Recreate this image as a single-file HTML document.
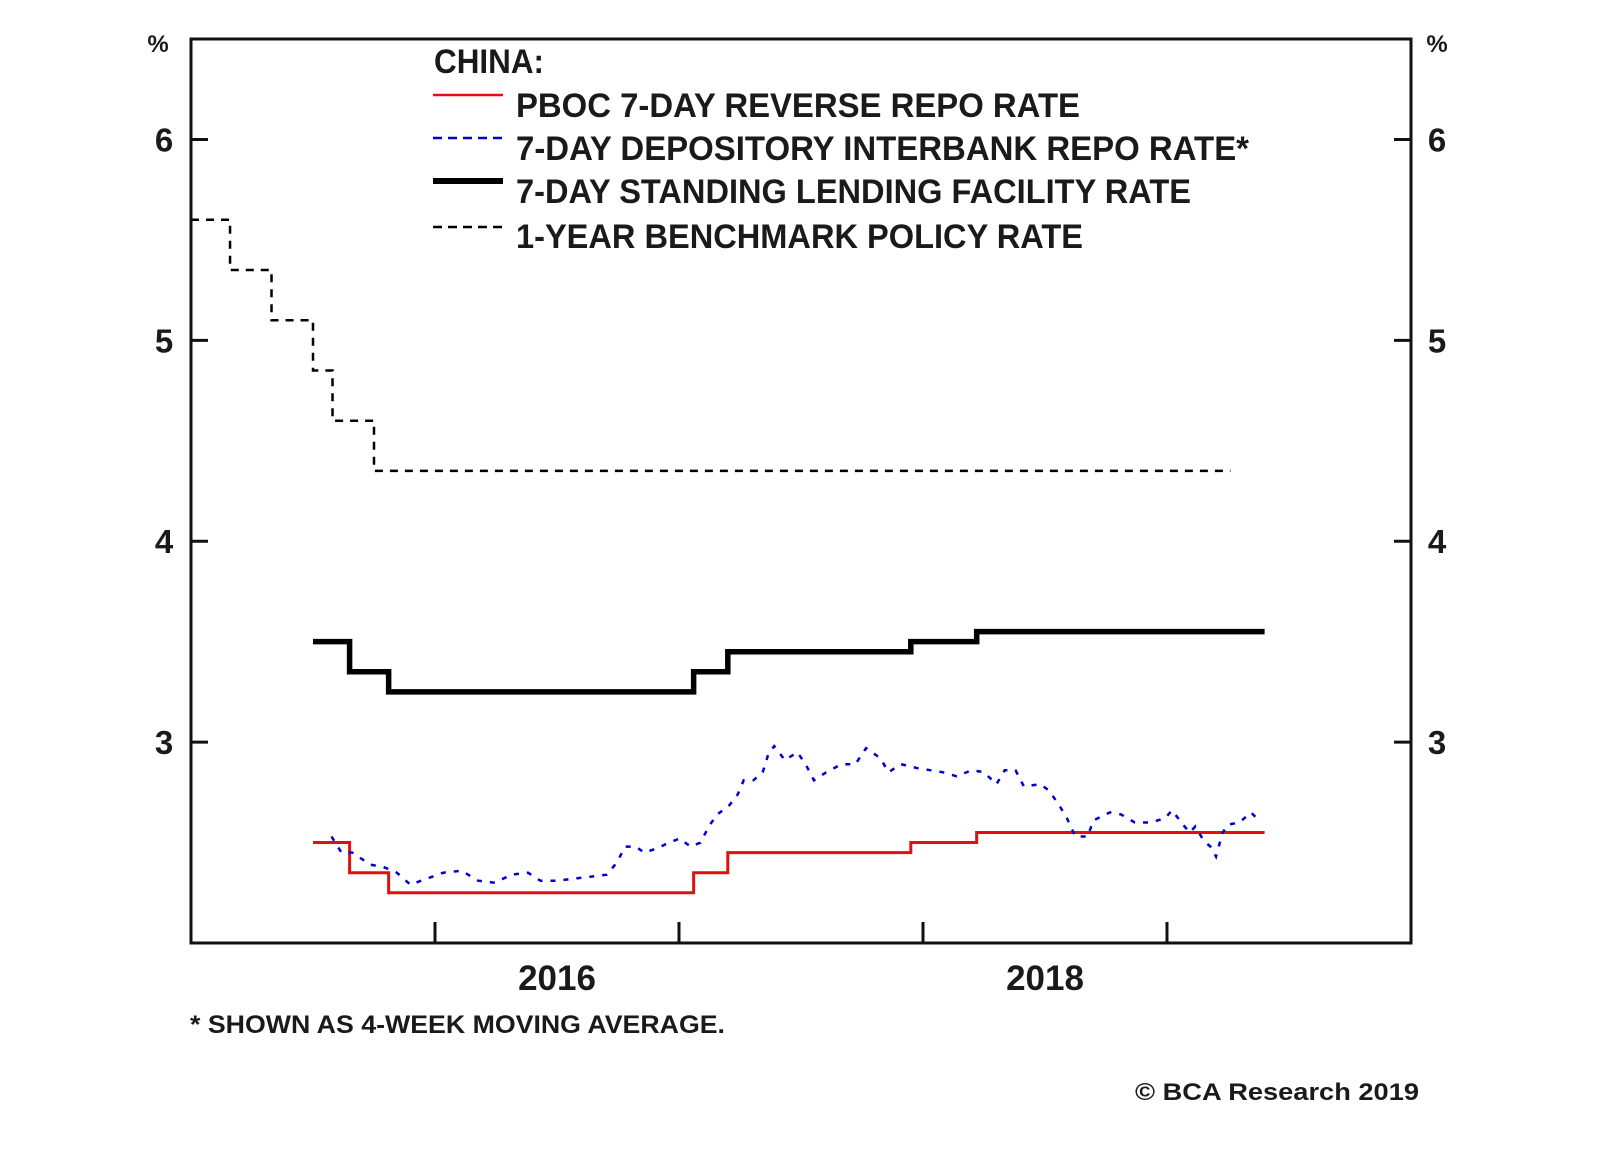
<!DOCTYPE html>
<html><head><meta charset="utf-8"><style>
html,body{margin:0;padding:0;background:#fff;}
svg{display:block;font-family:"Liberation Sans",Arial,sans-serif;font-weight:bold;}
</style></head><body>
<svg id="chart" width="1600" height="1152" viewBox="0 0 1600 1152" xmlns="http://www.w3.org/2000/svg">
<rect x="0" y="0" width="1600" height="1152" fill="#fff"/>
<g id="plot"></g>
<rect x="191" y="39" width="1220" height="904" fill="none" stroke="#111" stroke-width="3"/>
<g id="axes"></g>
<g fill="#1a1a1a" font-size="34">
  <text x="434" y="73" textLength="110" lengthAdjust="spacingAndGlyphs">CHINA:</text>
  <g>
    <line x1="433" y1="95" x2="503" y2="95" stroke="#e01010" stroke-width="2.5"/>
    <text x="516" y="117" textLength="564" lengthAdjust="spacingAndGlyphs">PBOC 7-DAY REVERSE REPO RATE</text>
  </g>
  <g>
    <line x1="433" y1="138" x2="503" y2="138" stroke="#0000cc" stroke-width="2.5" stroke-dasharray="9 6"/>
    <text x="516" y="160" textLength="733" lengthAdjust="spacingAndGlyphs">7-DAY DEPOSITORY INTERBANK REPO RATE*</text>
  </g>
  <g>
    <line x1="433" y1="181" x2="503" y2="181" stroke="#000" stroke-width="6"/>
    <text x="516" y="203" textLength="675" lengthAdjust="spacingAndGlyphs">7-DAY STANDING LENDING FACILITY RATE</text>
  </g>
  <g>
    <line x1="433" y1="227" x2="503" y2="227" stroke="#000" stroke-width="2.5" stroke-dasharray="9 6"/>
    <text x="516" y="248" textLength="567" lengthAdjust="spacingAndGlyphs">1-YEAR BENCHMARK POLICY RATE</text>
  </g>
</g>
<text x="190" y="1033" font-size="25" fill="#1a1a1a" textLength="535" lengthAdjust="spacingAndGlyphs">* SHOWN AS 4-WEEK MOVING AVERAGE.</text>
<text x="1135" y="1100" font-size="24" fill="#1a1a1a" textLength="284" lengthAdjust="spacingAndGlyphs">© BCA Research 2019</text>
</svg>
<script>
const yTicks = [3, 4, 5, 6];
const xYearTicks = [2016, 2017, 2018, 2019];
const xLabels = [2016, 2018];

const stepDates = [2015.50, 2015.65, 2015.81, 2017.06, 2017.20, 2017.95, 2018.22, 2019.40];
const repoValues = [2.5, 2.35, 2.25, 2.35, 2.45, 2.5, 2.55, 2.55];
const slfValues = [3.5, 3.35, 3.25, 3.35, 3.45, 3.5, 3.55, 3.55];

const benchDates = [2015.0, 2015.16, 2015.33, 2015.50, 2015.58, 2015.75, 2019.26];
const benchValues = [5.6, 5.35, 5.1, 4.85, 4.6, 4.35, 4.35];

const interbankDates = [2015.576,2015.617,2015.661,2015.735,2015.786,2015.844,2015.899,2015.966,2016.034,2016.109,2016.177,2016.245,2016.313,2016.381,2016.432,2016.500,2016.568,2016.636,2016.704,2016.745,2016.779,2016.823,2016.857,2016.908,2016.959,2017.003,2017.047,2017.088,2017.122,2017.156,2017.203,2017.241,2017.265,2017.305,2017.343,2017.366,2017.390,2017.434,2017.485,2017.519,2017.553,2017.604,2017.666,2017.723,2017.767,2017.825,2017.859,2017.910,2017.978,2018.029,2018.080,2018.138,2018.199,2018.250,2018.301,2018.335,2018.379,2018.413,2018.481,2018.515,2018.556,2018.590,2018.624,2018.675,2018.698,2018.766,2018.811,2018.868,2018.930,2018.991,2019.021,2019.065,2019.093,2019.116,2019.150,2019.178,2019.201,2019.228,2019.252,2019.297,2019.344,2019.378];
const interbankValues = [2.53,2.45,2.45,2.39,2.38,2.35,2.29,2.32,2.35,2.36,2.31,2.30,2.34,2.35,2.31,2.31,2.32,2.33,2.34,2.40,2.48,2.48,2.45,2.47,2.50,2.52,2.48,2.50,2.58,2.64,2.68,2.74,2.81,2.81,2.85,2.94,2.98,2.91,2.95,2.89,2.81,2.85,2.89,2.89,2.97,2.92,2.85,2.89,2.87,2.86,2.85,2.83,2.86,2.85,2.79,2.86,2.86,2.78,2.79,2.76,2.69,2.62,2.53,2.53,2.61,2.65,2.64,2.60,2.60,2.62,2.66,2.59,2.55,2.58,2.51,2.48,2.43,2.55,2.59,2.60,2.65,2.61];

const X0 = 191, X1 = 1411, Y0 = 39, Y1 = 943;
const xMin = 2015, xMax = 2020, yMin = 2.0, yMax = 6.5;
const xs = t => X0 + (t - xMin) / (xMax - xMin) * (X1 - X0);
const ys = v => Y1 - (v - yMin) / (yMax - yMin) * (Y1 - Y0);
const NS = 'http://www.w3.org/2000/svg';
const plot = document.getElementById('plot');
const axes = document.getElementById('axes');

function stepPath(dates, vals) {
  let d = 'M' + xs(dates[0]) + ',' + ys(vals[0]);
  for (let i = 1; i < dates.length; i++) {
    d += ' L' + xs(dates[i]) + ',' + ys(vals[i - 1]) + ' L' + xs(dates[i]) + ',' + ys(vals[i]);
  }
  return d;
}

const bench = document.createElementNS(NS, 'path');


bench.setAttribute('d', stepPath(benchDates, benchValues));
bench.setAttribute('fill', 'none'); bench.setAttribute('stroke', '#000');
bench.setAttribute('stroke-width', '2.5'); bench.setAttribute('stroke-dasharray', '8 7');
plot.appendChild(bench);

const slf = document.createElementNS(NS, 'path');


slf.setAttribute('d', stepPath(stepDates, slfValues));
slf.setAttribute('fill', 'none'); slf.setAttribute('stroke', '#000'); slf.setAttribute('stroke-width', '5.5');
plot.appendChild(slf);

const repo = document.createElementNS(NS, 'path');


repo.setAttribute('d', stepPath(stepDates, repoValues));
repo.setAttribute('fill', 'none'); repo.setAttribute('stroke', '#e01010'); repo.setAttribute('stroke-width', '3');
plot.appendChild(repo);

const ib = document.createElementNS(NS, 'path');


ib.setAttribute('d', interbankDates.map((t, i) => (i ? 'L' : 'M') + xs(t).toFixed(1) + ',' + ys(interbankValues[i]).toFixed(1)).join(' '));
ib.setAttribute('fill', 'none'); ib.setAttribute('stroke', '#0000cc');
ib.setAttribute('stroke-width', '2.5'); ib.setAttribute('stroke-dasharray', '5 8');
plot.appendChild(ib);

function mk(tag, attrs) {
  const e = document.createElementNS(NS, tag);
  for (const k in attrs) e.setAttribute(k, attrs[k]);
  return e;
}
yTicks.forEach(v => {
  const y = ys(v);
  const tl = mk('line', {x1: X0, y1: y, x2: X0 + 17, y2: y, stroke: '#111', 'stroke-width': 3});
  
  
  axes.appendChild(tl);
  const tr = mk('line', {x1: X1 - 17, y1: y, x2: X1, y2: y, stroke: '#111', 'stroke-width': 3});
  
  
  axes.appendChild(tr);
  const ll = mk('text', {x: 164, y: y + 12, 'font-size': 33, 'text-anchor': 'middle', fill: '#1a1a1a'});
  
  
  ll.textContent = v; axes.appendChild(ll);
  const lr = mk('text', {x: 1437, y: y + 12, 'font-size': 33, 'text-anchor': 'middle', fill: '#1a1a1a'});
  
  
  lr.textContent = v; axes.appendChild(lr);
});
xYearTicks.forEach(t => {
  const x = xs(t);
  const tk = mk('line', {x1: x, y1: Y1, x2: x, y2: Y1 - 21, stroke: '#111', 'stroke-width': 3});
  
  
  axes.appendChild(tk);
});
xLabels.forEach(t => {
  const lb = mk('text', {x: xs(t + 0.5), y: 990, 'font-size': 35, 'text-anchor': 'middle', fill: '#1a1a1a'});
  
  
  lb.textContent = t; axes.appendChild(lb);
});
['left', 'right'].forEach((s, i) => {
  const p = mk('text', {x: i ? 1437 : 158, y: 52, 'font-size': 24, 'text-anchor': 'middle', fill: '#1a1a1a'});
  
  
  p.textContent = '%'; axes.appendChild(p);
});
</script>
</body></html>
